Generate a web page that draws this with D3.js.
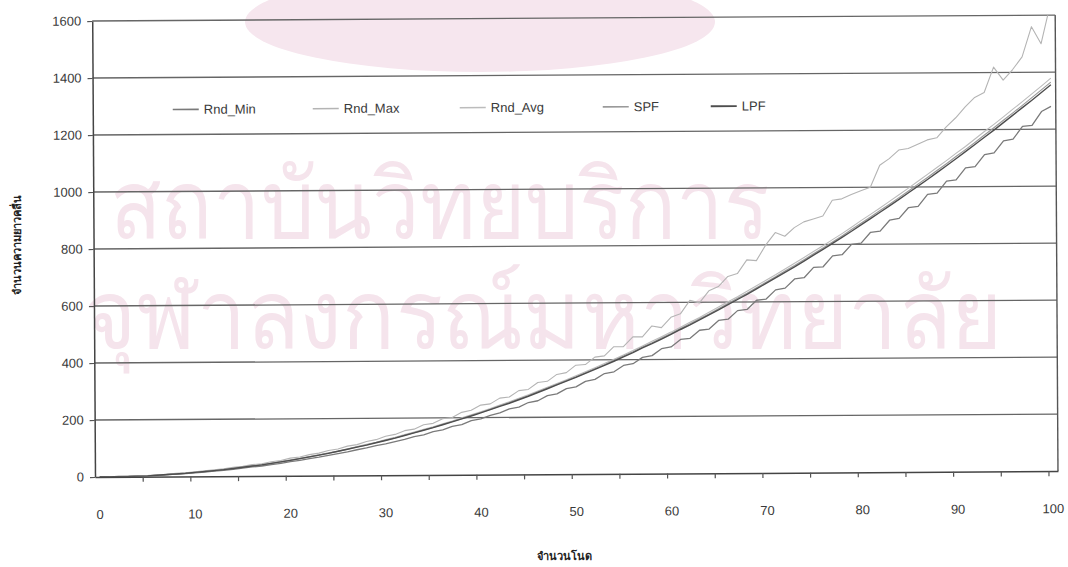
<!DOCTYPE html>
<html>
<head>
<meta charset="utf-8">
<script src="https://cdn.jsdelivr.net/npm/d3@7/dist/d3.min.js"></script>
<style>
  html, body { margin: 0; padding: 0; background: #fff; }
  svg { display: block; }
  text { font-family: "Liberation Sans", Arial, sans-serif; }
</style>
</head>
<body>
<svg id="chart" width="1068" height="567"></svg>
<script>
// ---- data ----
const nodes = d3.range(0, 101); // categories 0..100
const xTickLabels = [0, 10, 20, 30, 40, 50, 60, 70, 80, 90, 100];
const yTickLabels = [0, 200, 400, 600, 800, 1000, 1200, 1400, 1600];
const seriesNames = ["Rnd_Min", "Rnd_Max", "Rnd_Avg", "SPF", "LPF"];

const rndMin = [
  0,0,1,1,2,3,4,6,8,10,
  12,15,18,21,24,28,32,35,40,44,
  50,54,60,65,71,77,83,90,96,104,
  110,118,125,135,141,152,158,170,176,190,
  196,208,216,230,236,252,258,276,282,300,
  306,325,332,352,358,380,386,408,414,438,
  444,470,474,502,506,536,540,570,574,606,
  610,642,648,680,684,720,722,760,764,800,
  804,842,846,884,890,928,932,974,978,1020,
  1024,1066,1070,1112,1118,1160,1166,1210,1214,1262,
  1280];
const rndMax = [
  0,0,1,2,3,4,6,8,11,13,
  16,19,23,26,31,34,40,43,50,54,
  62,66,74,79,88,93,103,108,119,125,
  137,143,156,161,176,181,197,201,219,226,
  244,248,268,272,294,298,322,326,350,356,
  382,384,410,414,446,446,480,480,518,512,
  548,560,607,598,640,655,690,700,748,745,
  800,843,830,860,880,890,900,955,960,975,
  988,1000,1077,1100,1130,1135,1150,1165,1172,1210,
  1242,1280,1313,1330,1419,1373,1410,1454,1560,1500,
  1640];
const rndAvg = [
  0,0,1,1,2,3,5,7,9,11,
  14,17,20,24,27,31,36,40,45,50,
  56,61,67,73,80,86,94,101,109,116,
  125,133,142,151,160,169,179,189,200,210,
  221,232,244,255,267,279,292,305,318,331,
  345,359,373,387,402,417,432,448,464,480,
  496,513,530,547,565,583,601,619,638,657,
  676,695,715,735,755,776,796,817,838,860,
  883,905,927,950,973,996,1020,1044,1068,1092,
  1117,1141,1167,1193,1218,1244,1271,1297,1324,1351,
  1379];
const spf = [
  0,0,1,1,2,3,5,7,9,11,
  14,17,20,23,27,31,35,39,44,49,
  55,60,66,72,79,85,92,100,107,115,
  123,131,140,149,158,167,177,187,197,208,
  218,229,241,252,264,276,289,302,315,328,
  341,355,369,383,398,413,428,444,459,475,
  491,508,525,542,559,577,595,613,631,650,
  669,688,708,727,747,768,788,809,830,852,
  874,896,918,940,963,986,1010,1033,1057,1081,
  1106,1130,1155,1181,1206,1232,1258,1284,1311,1338,
  1365];
const lpf = [
  0,0,1,1,2,3,5,7,9,11,
  14,17,20,23,27,31,35,39,44,49,
  54,60,66,72,78,85,92,99,106,114,
  122,130,139,148,157,166,176,186,196,206,
  217,228,239,250,262,274,287,300,313,326,
  339,353,367,381,395,410,425,441,456,472,
  488,505,521,538,556,573,591,609,627,646,
  665,684,703,722,742,763,783,804,825,846,
  868,890,912,934,957,980,1003,1026,1050,1074,
  1098,1123,1148,1173,1198,1224,1250,1276,1302,1329,
  1356];

const watermarkLines = ["สถาบันวิทยบริการ", "จุฬาลงกรณ์มหาวิทยาลัย"];

const seriesValues = [rndMin, rndMax, rndAvg, spf, lpf];
const seriesColors = ["#7a7a7a", "#b4b4b4", "#bcbcbc", "#9a9a9a", "#4e4e4e"];
const seriesWidths = [1.3, 1.1, 1.1, 1.2, 1.4];

// ---- layout ----
const svg = d3.select("#chart");
svg.append("rect").attr("width", 1068).attr("height", 567).attr("fill", "#fff");

// faint watermark of the scanned page
const wm = svg.append("g").attr("fill", "#f5e4ec").attr("font-family", "'Noto Sans', 'DejaVu Sans', sans-serif");
wm.append("ellipse").attr("cx", 480).attr("cy", 22).attr("rx", 235).attr("ry", 50).attr("fill", "#f6e6ee");
const wmPos = [{x: 110, y: 238, w: 660}, {x: 85, y: 348, w: 915}];
watermarkLines.forEach((txt, i) => {
  const t = wm.append("text").attr("font-size", 96).text(txt);
  const natural = t.node().getComputedTextLength() || wmPos[i].w;
  t.attr("transform", `translate(${wmPos[i].x},${wmPos[i].y}) scale(${wmPos[i].w / natural},1)`);
});

const pLeft = 95, pRight = 1058, pTop = 21, pBottom = 477;
const g = svg.append("g").attr("transform", `rotate(-0.35, ${pLeft}, ${pBottom})`);

const x = d3.scaleLinear().domain([-0.5, 100.5]).range([pLeft, pRight]);
const y = d3.scaleLinear().domain([0, 1600]).range([pBottom, pTop]);

// gridlines
g.append("g")
  .selectAll("line")
  .data(yTickLabels.filter(v => v > 0))
  .join("line")
  .attr("x1", pLeft).attr("x2", pRight)
  .attr("y1", d => y(d)).attr("y2", d => y(d))
  .attr("stroke", "#666").attr("stroke-width", 1.3);

// right border
g.append("line").attr("x1", pRight).attr("x2", pRight).attr("y1", pTop).attr("y2", pBottom)
  .attr("stroke", "#555").attr("stroke-width", 1.4);

// clip for series
g.append("clipPath").attr("id", "plotclip").append("rect")
  .attr("x", pLeft).attr("y", pTop).attr("width", pRight - pLeft).attr("height", pBottom - pTop);

// series lines
const line = d3.line().x((d, i) => x(nodes[i])).y(d => y(d));
const order = [2, 3, 0, 1, 4];
order.forEach(k => {
  g.append("path")
    .datum(seriesValues[k])
    .attr("clip-path", "url(#plotclip)")
    .attr("fill", "none")
    .attr("stroke", seriesColors[k])
    .attr("stroke-width", seriesWidths[k])
    .attr("stroke-linejoin", "round")
    .attr("d", line);
});

// axes
const xTicks = d3.range(4.5, 100, 5);
const xAxis = d3.axisBottom(x).tickValues(xTicks).tickSize(5).tickFormat("").tickSizeOuter(0);
const xg = g.append("g").attr("transform", `translate(0,${pBottom})`).call(xAxis);
xg.select(".domain").attr("stroke", "#444").attr("stroke-width", 1.5);
xg.selectAll(".tick line").attr("stroke", "#555").attr("stroke-width", 1.2);

const yAxis = d3.axisLeft(y).tickValues(yTickLabels).tickSize(5).tickFormat("").tickSizeOuter(0);
const yg = g.append("g").attr("transform", `translate(${pLeft},0)`).call(yAxis);
yg.select(".domain").attr("stroke", "#444").attr("stroke-width", 1.5);
yg.selectAll(".tick line").attr("stroke", "#555").attr("stroke-width", 1.2);

// tick labels
g.append("g").selectAll("text").data(xTickLabels).join("text")
  .attr("x", d => x(d)).attr("y", 519)
  .attr("text-anchor", "middle").attr("font-size", 13).attr("fill", "#3a3a3a")
  .text(d => d);
g.append("g").selectAll("text").data(yTickLabels).join("text")
  .attr("x", 84).attr("y", d => y(d) + 4.5)
  .attr("text-anchor", "end").attr("font-size", 13).attr("fill", "#3a3a3a")
  .text(d => d);

// legend
const legX = [175, 315, 462, 605, 713];
const legY = 110;
const leg = g.append("g");
seriesNames.forEach((name, k) => {
  leg.append("line").attr("x1", legX[k]).attr("x2", legX[k] + 26)
    .attr("y1", legY).attr("y2", legY)
    .attr("stroke", seriesColors[k]).attr("stroke-width", seriesWidths[k] + 0.4);
  leg.append("text").attr("x", legX[k] + 31).attr("y", legY + 4.5)
    .attr("font-size", 13).attr("fill", "#3a3a3a").text(name);
});

// axis titles
svg.append("text").attr("transform", "translate(21,245) rotate(-90)")
  .attr("text-anchor", "middle").attr("font-size", 11).attr("font-weight", "bold").attr("fill", "#222")
  .text("จำนวนความยาวคลื่น");
svg.append("text").attr("x", 564).attr("y", 560)
  .attr("text-anchor", "middle").attr("font-size", 11).attr("font-weight", "bold").attr("fill", "#222")
  .text("จำนวนโนด");
</script>
</body>
</html>
